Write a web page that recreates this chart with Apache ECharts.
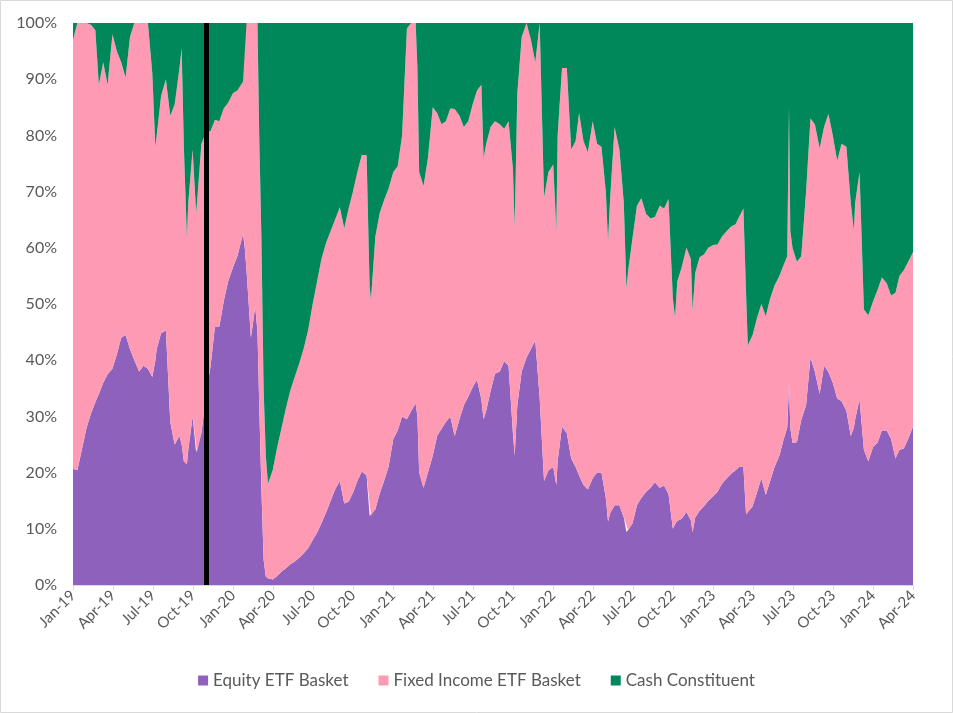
<!DOCTYPE html>
<html>
<head>
<meta charset="utf-8">
<script src="https://cdn.jsdelivr.net/npm/echarts@6/dist/echarts.min.js"></script>
<style>
html,body{margin:0;padding:0;background:#fff;}
#chart{width:953px;height:713px;}
</style>
</head>
<body>
<div id="chart"></div>
<script>
const dates = ['2019-01-01','2019-01-11','2019-01-21','2019-02-01','2019-02-11','2019-02-21','2019-03-01','2019-03-11','2019-03-21','2019-04-01','2019-04-11','2019-04-21','2019-05-01','2019-05-11','2019-05-21','2019-06-01','2019-06-11','2019-06-21','2019-07-01','2019-07-08','2019-07-11','2019-07-21','2019-08-01','2019-08-11','2019-08-21','2019-09-01','2019-09-06','2019-09-11','2019-09-18','2019-09-21','2019-10-01','2019-10-09','2019-10-11','2019-10-21','2019-11-01','2019-11-11','2019-11-21','2019-12-01','2019-12-11','2019-12-21',
'2020-01-01','2020-01-11','2020-01-21','2020-01-24','2020-01-28','2020-02-01','2020-02-11','2020-02-21','2020-02-26','2020-03-01','2020-03-06','2020-03-11','2020-03-16','2020-03-21','2020-04-01','2020-04-11','2020-04-21','2020-05-01','2020-05-11','2020-05-21','2020-06-01','2020-06-11','2020-06-21','2020-07-01','2020-07-11','2020-07-21','2020-08-01','2020-08-11','2020-08-21','2020-09-01','2020-09-11','2020-09-21','2020-10-01','2020-10-11','2020-10-21','2020-11-01','2020-11-08','2020-11-11','2020-11-21','2020-12-01','2020-12-11','2020-12-21',
'2021-01-01','2021-01-11','2021-01-21','2021-02-01','2021-02-11','2021-02-21','2021-02-25','2021-03-01','2021-03-11','2021-03-21','2021-04-01','2021-04-11','2021-04-21','2021-05-01','2021-05-11','2021-05-21','2021-06-01','2021-06-11','2021-06-21','2021-07-01','2021-07-11','2021-07-21','2021-07-26','2021-08-01','2021-08-11','2021-08-21','2021-09-01','2021-09-11','2021-09-21','2021-10-01','2021-10-05','2021-10-11','2021-10-21','2021-11-01','2021-11-11','2021-11-21','2021-12-01','2021-12-11','2021-12-21',
'2022-01-01','2022-01-08','2022-01-11','2022-01-21','2022-02-01','2022-02-11','2022-02-21','2022-03-01','2022-03-11','2022-03-21','2022-04-01','2022-04-11','2022-04-21','2022-05-01','2022-05-06','2022-05-11','2022-05-21','2022-06-01','2022-06-11','2022-06-17','2022-06-21','2022-07-01','2022-07-11','2022-07-21','2022-08-01','2022-08-11','2022-08-21','2022-09-01','2022-09-11','2022-09-21','2022-10-01','2022-10-06','2022-10-11','2022-10-21','2022-11-01','2022-11-11','2022-11-15','2022-11-21','2022-12-01','2022-12-11','2022-12-21',
'2023-01-01','2023-01-11','2023-01-21','2023-02-01','2023-02-11','2023-02-21','2023-03-01','2023-03-11','2023-03-17','2023-03-21','2023-04-01','2023-04-11','2023-04-21','2023-05-01','2023-05-11','2023-05-21','2023-06-01','2023-06-11','2023-06-19','2023-06-23','2023-06-26','2023-07-01','2023-07-11','2023-07-21','2023-08-01','2023-08-11','2023-08-21','2023-09-01','2023-09-11','2023-09-21','2023-10-01','2023-10-11','2023-10-21','2023-11-01','2023-11-11','2023-11-18','2023-11-21','2023-12-01','2023-12-11','2023-12-21',
'2024-01-01','2024-01-11','2024-01-21','2024-02-01','2024-02-11','2024-02-21','2024-03-01','2024-03-11','2024-03-21','2024-04-01'];

const equity = [20.7,20.4,24,28,30.5,32.5,34,36,37.5,38.5,41,44,44.5,42,40,38,39,38.5,37,40,42,44.8,45.3,29,25,26.5,25,22,21.5,24,30,23.6,23.6,27,34,39,46,46,50.5,54,
56.5,58.5,61.5,62.5,60,56,44,49.5,45,32,17,4.5,1.5,1.2,1,1.6,2.4,3,3.7,4.2,4.9,5.7,6.6,8,9.3,11,13,15,17,18.5,14.5,14.8,16.4,18.5,20.2,19.5,12.3,12.3,13.5,16.3,18.5,21,
26,27.5,30,29.5,31,32.3,30,20,17.3,20,23,26.5,27.8,29,30,26.5,29.5,32,33.5,35.2,36.5,33,29.5,31,34.5,37.6,38,39.8,39,27,23,32,38,40.5,42,43.5,33.3,18.5,20.4,
21,17.8,22,28.2,27,22.5,21,19.5,17.8,17,19,20,20,15.5,11.3,12.8,14.2,14.2,12,9.4,9.7,11,14.2,15.5,16.6,17.3,18.3,17.3,17.7,16.2,10,10.8,11.4,11.8,13,11.5,9.4,12,13.2,14,15,
15.8,16.6,18,19,19.8,20.4,21,21,12.6,13,14,16.5,19,16,18.5,21,23,26,28,35.9,28,25.3,25.4,29.4,32,40.5,38,34,39,37.9,36,33.2,32.7,31,26.5,28,29.5,33,24,22,
24.6,25.3,27.5,27.5,26,22.5,24,24.3,26,28.2];

const fixedIncome = [76.3,79.6,76,72,69.2,66.2,55,57,51.5,59.5,54,49,45.8,55.5,60,62,61,61.5,54,38,38,42.2,44.7,54.5,60.5,65.5,70.5,56,40.3,44,47.5,42.7,44.4,51.5,46.5,41.8,36.8,36.5,34.3,31.8,
31,29.5,28.3,27.1,40,44,56,50.5,55,48,44.8,30.5,21.5,16.8,19.5,22.9,25.6,28.5,30.9,32.8,34.7,36.5,38.9,42,44.7,47,48,48,48,48.7,49,52.2,53.6,55,56.3,57,40.7,38.5,48.5,49.9,50,49.5,
47.5,47,50,69.5,69,67.7,62,53.5,53.7,56,62,57.5,54.2,53.5,54.8,58.2,54,49.5,49,50.3,51.5,56,46.5,47.5,47,44.9,44,41.4,43.5,47,40.8,55.5,59.5,59.5,55,49.5,66.7,50.5,53.1,
53.8,45.3,58,63.8,65,55,58,64.5,61.2,60,63.5,58.5,58,54.5,49.9,56.2,67.3,63.3,56,43.4,46.3,50.8,53.3,53.3,49.4,47.9,47.2,50.2,49.3,52.5,41,36.8,42.6,44.7,47,46.5,39.5,43.5,45.1,44.8,45,
44.7,44,44,44,44,43.8,44.5,46,39.4,29.6,30.5,31,31,31.8,32.5,32.3,32,31,30.5,49.2,35,34.7,32.1,29.1,38,42.5,44,43.7,42.5,45.9,44,42.3,45.8,47,41.5,35.1,38.5,40.5,25,26,
25.9,27.2,27.2,26.2,25.5,29.5,31,31.7,31.5,31];

const cash = [3,0,0,0,0.3,1.3,11,7,11,2,5,7,9.7,2.5,0,0,0,0,9,22,20,13,10,16.5,14.5,8,4.5,22,38.2,32,22.5,33.7,32,21.5,19.5,19.2,17.2,17.5,15.2,14.2,
12.5,12,10.2,10.4,0,0,0,0,0,20,38.2,65,77,82,79.5,75.5,72,68.5,65.4,63,60.4,57.8,54.5,50,46,42,39,37,35,32.8,36.5,33,30,26.5,23.5,23.5,47,49.2,38,33.8,31.5,29.5,
26.5,25.5,20,1,0,0,8,26.5,29,24,15,16,18,17.5,15.2,15.3,16.5,18.5,17.5,14.5,12,11,24,21.5,18.5,17.5,18,18.8,17.5,26,36.2,12.5,2.5,0,3,7,0,31,26.5,
25.2,36.9,20,8,8,22.5,21,16,21,23,17.5,21.5,22,30,38.8,31,18.5,22.5,32,47.2,44,38.2,32.5,31.2,34,34.8,34.5,32.5,33,31.3,49,52.4,46,43.5,40,42,51.1,44.5,41.7,41.2,40,
39.5,39.4,38,37,36.2,35.8,34.5,33,48,57.4,55.5,52.5,50,52.2,49,46.7,45,43,41.5,14.9,37,40,42.5,41.5,30,17,18,22.3,18.5,16.2,20,24.5,21.5,22,32,36.9,32,26.5,51,52,
49.5,47.5,45.3,46.3,48.5,48,45,44,42.5,40.8];

const tickLabels = ['Jan-19','Apr-19','Jul-19','Oct-19','Jan-20','Apr-20','Jul-20','Oct-20','Jan-21','Apr-21','Jul-21','Oct-21','Jan-22','Apr-22','Jul-22','Oct-22','Jan-23','Apr-23','Jul-23','Oct-23','Jan-24','Apr-24'];
const markerDate = '2019-11-01';
const startDate = '2019-01-01';
const endDate = '2024-04-01';
const seriesNames = ['Equity ETF Basket','Fixed Income ETF Basket','Cash Constituent'];
const colors = ['#8E62BC','#FF9AB5','#00875A'];

function toTime(s){
  const p = s.split('-').map(Number);
  return Date.UTC(p[0], p[1]-1, p[2]);
}
const ts = dates.map(toTime);
const pairs = arr => arr.map((v,i)=>[ts[i], v]);

const chart = echarts.init(document.getElementById('chart'), null, {renderer:'canvas'});
const font = 'Lato, "Open Sans", sans-serif';
const mk = (name, data, color, extra) => Object.assign({
  name, type:'line', stack:'total', xAxisIndex:0, yAxisIndex:0, data: pairs(data), symbol:'none', showSymbol:false,
  lineStyle:{width:0}, itemStyle:{color}, areaStyle:{color, opacity:1}, emphasis:{disabled:true}
}, extra||{});

chart.setOption({
  animation:false,
  graphic:[{type:'rect', shape:{x:0.5,y:0.5,width:952,height:712}, style:{fill:'none', stroke:'#D9D9D9', lineWidth:1}}],
  grid:{left:73, right:40, top:23, bottom:128, containLabel:false},
  legend:{
    data:seriesNames, top:667, left:'center', icon:'rect', itemWidth:10, itemHeight:10, itemGap:30,
    textStyle:{fontSize:17, color:'#595959', fontFamily:font}
  },
  xAxis:[{
    type:'time', min:toTime(startDate), max:toTime(endDate),
    axisLine:{show:false}, axisTick:{show:false}, axisLabel:{show:false}, splitLine:{show:false}
  },{
    type:'value', min:0, max:tickLabels.length-1, interval:1, position:'bottom',
    axisLine:{show:true, onZero:false, lineStyle:{color:'#D9D9D9', width:1}},
    axisTick:{show:true, length:5, lineStyle:{color:'#D9D9D9'}},
    splitLine:{show:false},
    axisLabel:{rotate:45, fontSize:15, color:'#595959', fontFamily:font, margin:8,
      formatter: v => tickLabels[Math.round(v)] || ''}
  }],
  yAxis:{
    type:'value', min:0, max:100, interval:10,
    axisLine:{show:false}, axisTick:{show:false}, splitLine:{show:false},
    axisLabel:{formatter:'{value}%', fontSize:16, color:'#595959', fontFamily:font, margin:16}
  },
  series:[
    mk(seriesNames[0], equity, colors[0]),
    mk(seriesNames[1], fixedIncome, colors[1]),
    mk(seriesNames[2], cash, colors[2], {
      markLine:{silent:true, symbol:['none','none'], label:{show:false},
        lineStyle:{color:'#000', width:5, type:'solid'},
        data:[{xAxis: toTime(markerDate)}]}
    })
  ]
});
</script>
</body>
</html>
